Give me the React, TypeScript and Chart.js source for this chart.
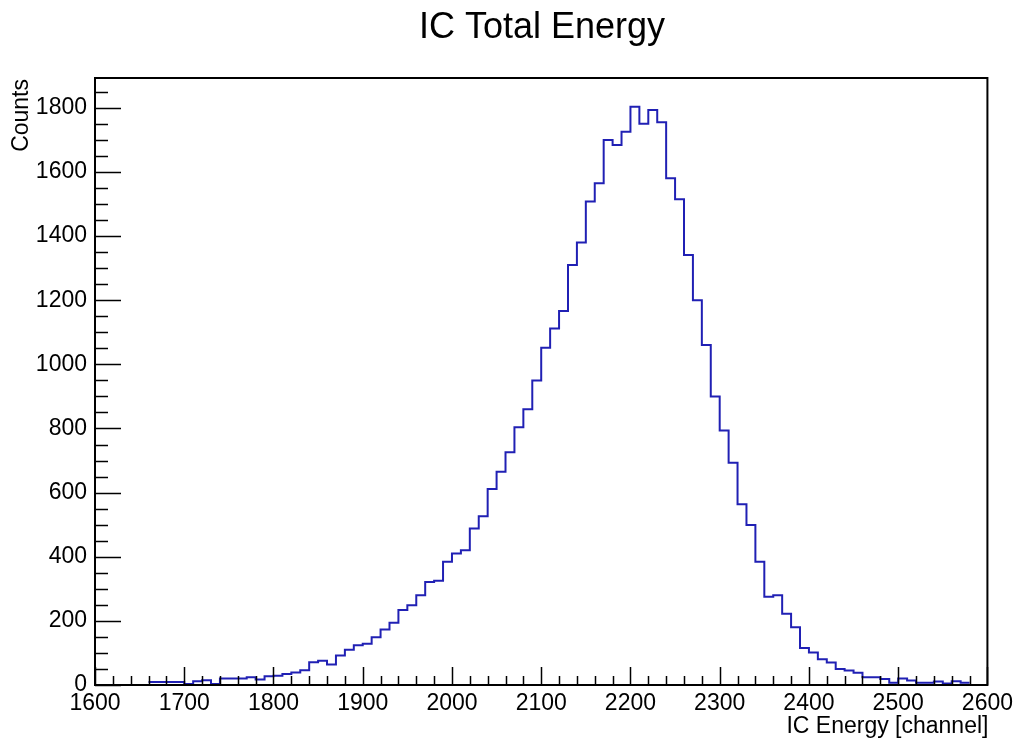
import React, { useEffect, useRef } from 'react';
import { Chart, registerables } from 'chart.js';

Chart.register(...registerables);

// Histogram binning (lower edge of first filled bin and bin width, in channels)
const BIN_LOW = 1660;
const BIN_WIDTH = 10;

// Counts per 10-channel bin, from 1660 to 2580
const counts = [
  9, 9, 9, 9, 3, 12, 15, 3, 20, 20,
  20, 24, 17, 27, 29, 34, 39, 46, 71, 76,
  64, 92, 110, 124, 129, 149, 173, 194, 234, 249,
  280, 321, 325, 384, 410, 420, 488, 526, 611, 665,
  726, 804, 860, 950, 1052, 1112, 1166, 1310, 1380, 1508,
  1565, 1700, 1684, 1725, 1803, 1750, 1793, 1755, 1580, 1515,
  1341, 1200, 1060, 900, 794, 693, 564, 499, 384, 275,
  280, 222, 180, 115, 101, 80, 70, 50, 45, 38,
  24, 24, 19, 7, 20, 14, 7, 7, 11, 5,
  12, 7,
];

const xTickValues = [1600, 1700, 1800, 1900, 2000, 2100, 2200, 2300, 2400, 2500, 2600];
const yTickValues = [0, 200, 400, 600, 800, 1000, 1200, 1400, 1600, 1800];

const X_MIN = 1600;
const X_MAX = 2600;
const Y_MIN = 0;
const Y_MAX = 1893;

const TITLE = 'IC Total Energy';
const X_TITLE = 'IC Energy [channel]';
const Y_TITLE = 'Counts';

const FONT = '"Liberation Sans", Arial, Helvetica, sans-serif';
const LINE_COLOR = '#2020b4';

const rootFramePlugin = {
  id: 'rootFrame',
  afterDraw(chart: any) {
    const { ctx, chartArea } = chart;
    const { left, right, top, bottom } = chartArea;
    const xs = chart.scales.x;
    const ys = chart.scales.y;
    ctx.save();
    ctx.strokeStyle = '#000';
    // ticks (inward, ROOT style)
    ctx.lineWidth = 1.5;
    ctx.beginPath();
    for (let v = X_MIN; v <= X_MAX; v += 20) {
      const px = Math.round(xs.getPixelForValue(v)) + 0.5;
      const len = v % 100 === 0 ? 18 : 9;
      ctx.moveTo(px, bottom);
      ctx.lineTo(px, bottom - len);
    }
    for (let v = Y_MIN; v <= Y_MAX; v += 50) {
      const py = Math.round(ys.getPixelForValue(v)) + 0.5;
      const len = v % 200 === 0 ? 26 : 13;
      ctx.moveTo(left, py);
      ctx.lineTo(left + len, py);
    }
    ctx.stroke();
    // frame
    ctx.lineWidth = 2;
    ctx.strokeRect(left, top, right - left, bottom - top);

    // titles
    ctx.fillStyle = '#000';
    ctx.font = `36px ${FONT}`;
    ctx.textAlign = 'center';
    ctx.textBaseline = 'alphabetic';
    ctx.fillText(TITLE, 542, 38);

    ctx.font = `23px ${FONT}`;
    ctx.textAlign = 'right';
    ctx.fillText(X_TITLE, right + 1, 733);

    ctx.translate(28, top + 1);
    ctx.rotate(-Math.PI / 2);
    ctx.textAlign = 'right';
    ctx.fillText(Y_TITLE, 0, 0);
    ctx.restore();
  },
};

export default function App() {
  const canvasRef = useRef<HTMLCanvasElement | null>(null);

  useEffect(() => {
    document.body.style.margin = '0';
    const canvas = canvasRef.current;
    if (!canvas) return;

    const points = counts.map((c, i) => ({ x: BIN_LOW + i * BIN_WIDTH, y: c }));
    points.push({ x: BIN_LOW + counts.length * BIN_WIDTH, y: counts[counts.length - 1] });

    const chart = new Chart(canvas, {
      type: 'line',
      data: {
        datasets: [
          {
            data: points,
            stepped: 'before',
            borderColor: LINE_COLOR,
            borderWidth: 2,
            pointRadius: 0,
            fill: false,
            tension: 0,
          },
        ],
      },
      options: {
        animation: false,
        responsive: false,
        devicePixelRatio: 1,
        layout: { padding: { left: 0, top: 78, right: 28, bottom: 0 } },
        plugins: {
          legend: { display: false },
          title: { display: false },
          tooltip: { enabled: false },
        },
        scales: {
          x: {
            type: 'linear',
            min: X_MIN,
            max: X_MAX,
            grid: { display: false, drawTicks: false },
            border: { display: false },
            afterBuildTicks: (scale: any) => {
              scale.ticks = xTickValues.map((v) => ({ value: v }));
            },
            afterFit: (scale: any) => {
              scale.height = 55;
            },
            ticks: {
              autoSkip: false,
              maxRotation: 0,
              minRotation: 0,
              padding: 5,
              color: '#000',
              font: { family: FONT, size: 23 },
              callback: (v: any) => String(v),
            },
          },
          y: {
            type: 'linear',
            min: Y_MIN,
            max: Y_MAX,
            grid: { display: false, drawTicks: false },
            border: { display: false },
            afterBuildTicks: (scale: any) => {
              scale.ticks = yTickValues.map((v) => ({ value: v }));
            },
            afterFit: (scale: any) => {
              scale.width = 95;
            },
            ticks: {
              autoSkip: false,
              padding: 8,
              color: '#000',
              font: { family: FONT, size: 23 },
              callback: (v: any) => String(v),
            },
          },
        },
      },
      plugins: [rootFramePlugin],
    });

    return () => chart.destroy();
  }, []);

  return (
    <div style={{ width: 1018, height: 740, background: '#fff' }}>
      <canvas ref={canvasRef} width={1018} height={740} style={{ display: 'block' }} />
    </div>
  );
}
